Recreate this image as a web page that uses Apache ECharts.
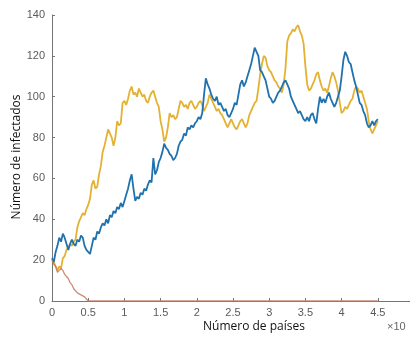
<!DOCTYPE html>
<html>
<head>
<meta charset="utf-8">
<script src="https://cdn.jsdelivr.net/npm/echarts@6/dist/echarts.min.js"></script>
<style>
  html, body { margin: 0; padding: 0; background: #fff; }
  #chart { width: 410px; height: 339px; }
</style>
</head>
<body>
<div id="chart"></div>
<script>
// Sample spacing of the two simulated runs (x in units of 10^4)
const step = 0.025;

// Run 1 (blue): infected count per sample, x = 0 .. 4.5
const blueValues = [
  21, 19, 24, 27, 31, 29, 33, 31, 28, 25,
  28, 30, 28, 27, 30, 29, 32, 31, 27, 25,
  24, 23, 27, 31, 30, 34, 33, 36, 38, 37,
  40, 38, 42, 41, 44, 43, 46, 45, 48, 46,
  49, 52, 55, 59, 62, 55, 49, 51, 50, 53,
  52, 55, 54, 57, 59, 58, 70, 62, 64, 68,
  70, 73, 77, 75, 74, 72, 71, 69, 70, 72,
  76, 78, 79, 82, 81, 85, 84, 86, 85, 87,
  88, 90, 89, 92, 101, 109, 106, 104, 101, 99,
  98, 100, 96, 97, 95, 93, 94, 91, 90, 92,
  94, 97, 96, 101, 106, 108, 105, 107, 110, 113,
  116, 120, 124, 122, 120, 113, 112, 110, 108, 104,
  100, 99, 97, 98, 100, 102, 103, 105, 107, 108,
  106, 104, 100, 98, 96, 94, 92, 93, 91, 89,
  88, 90, 88, 91, 92, 89, 87, 94, 100, 97,
  99, 97, 100, 102, 99, 97, 95, 97, 100, 103,
  110, 118, 122, 120, 117, 116, 112, 108, 105, 101,
  97, 96, 93, 91, 87, 85, 86, 88, 86, 88,
  89
];

// Run 2 (yellow): infected count per sample, x = 0 .. 4.5
const yellowValues = [
  20, 19, 17, 15, 17, 16, 21, 22, 25, 26,
  28, 27, 29, 30, 36, 39, 41, 43, 42, 45,
  47, 50, 57, 59, 55, 56, 62, 66, 73, 76,
  80, 84, 82, 80, 76, 80, 88, 86, 87, 97,
  98, 96, 99, 103, 105, 101, 102, 100, 104, 102,
  100, 101, 98, 97, 100, 102, 103, 100, 97, 95,
  88, 84, 78, 80, 85, 92, 90, 91, 89, 90,
  94, 98, 97, 95, 96, 94, 97, 98, 96, 94,
  95, 97, 98, 96, 93, 95, 97, 101, 99, 97,
  95, 93, 94, 92, 91, 89, 87, 85, 87, 89,
  87, 85, 84, 86, 88, 89, 87, 85, 87, 91,
  93, 95, 97, 98, 104, 111, 116, 120, 119, 115,
  113, 112, 110, 108, 107, 105, 104, 102, 106, 114,
  127, 130, 131, 133, 132, 134, 135, 132, 130, 126,
  115, 106, 103, 104, 106, 108, 111, 112, 108, 105,
  103, 104, 102, 105, 109, 112, 110, 107, 103, 97,
  92, 93, 95, 94, 96, 98, 99, 103, 105, 104,
  102, 103, 100, 97, 94, 88, 84, 82, 84, 86,
  88
];

// Run 3 (red): dies out by x = 0.5, then stays at zero
const redX = [0, 0.025, 0.05, 0.075, 0.1, 0.125, 0.15, 0.175, 0.2, 0.225,
              0.25, 0.275, 0.3, 0.325, 0.35, 0.375, 0.4, 0.425, 0.45, 0.475,
              0.5, 4.5];
const redY = [20, 18, 17, 14, 15, 16, 15, 13, 12, 11,
              9, 8, 6, 5, 4, 4, 3, 3, 2, 1,
              0, 0];

const xTicks = [0, 0.5, 1, 1.5, 2, 2.5, 3, 3.5, 4, 4.5, 5];
const yTicks = [0, 20, 40, 60, 80, 100, 120, 140];

const xLabel = 'Número de países';
const yLabel = 'Número de infectados';
const xScaleNote = '×10';

function pairs(values) {
  return values.map((v, i) => [+(i * step).toFixed(3), v]);
}
const redPairs = redX.map((x, i) => [x, redY[i]]);

const axisGray = '#767676';
const labelGray = '#5a5a5a';

const chart = echarts.init(document.getElementById('chart'), null, { renderer: 'canvas' });
chart.setOption({
  animation: false,
  backgroundColor: '#ffffff',
  grid: { left: 52, right: -4, top: 15, bottom: 38, containLabel: false, outerBoundsMode: 'none' },
  xAxis: {
    type: 'value',
    min: xTicks[0],
    max: xTicks[xTicks.length - 1],
    interval: 0.5,
    axisLine: { show: true, lineStyle: { color: axisGray, width: 1 } },
    axisTick: { show: true, inside: true, length: 3, lineStyle: { color: axisGray } },
    axisLabel: {
      color: labelGray, fontFamily: 'Liberation Sans', fontSize: 11, margin: 6,
      formatter: v => String(v)
    },
    splitLine: { show: false }
  },
  yAxis: {
    type: 'value',
    min: yTicks[0],
    max: yTicks[yTicks.length - 1],
    interval: 20,
    axisLine: { show: true, lineStyle: { color: axisGray, width: 1 } },
    axisTick: { show: true, inside: true, length: 3, lineStyle: { color: axisGray } },
    axisLabel: { color: labelGray, fontFamily: 'Liberation Sans', fontSize: 11, margin: 7 },
    splitLine: { show: false }
  },
  graphic: [
    {
      type: 'text', left: 203, top: 321,
      style: { text: xLabel, fill: '#111', font: '12px "Open Sans"' }
    },
    {
      type: 'text', x: 11, y: 157, rotation: Math.PI / 2,
      style: { text: yLabel, fill: '#111', font: '12px "Open Sans"', align: 'center', verticalAlign: 'top' }
    },
    {
      type: 'text', left: 387, top: 321,
      style: { text: xScaleNote, fill: '#666', font: '11px "Liberation Sans"' }
    }
  ],
  series: [
    {
      type: 'line', data: pairs(blueValues), showSymbol: false,
      lineStyle: { color: '#1f72ad', width: 1.8 }, z: 3
    },
    {
      type: 'line', data: pairs(yellowValues), showSymbol: false,
      lineStyle: { color: '#e4b232', width: 1.8 }, z: 2
    },
    {
      type: 'line', data: redPairs, showSymbol: false,
      lineStyle: { color: '#c27a5e', width: 1.3, opacity: 0.85 }, z: 4
    }
  ]
});
</script>
</body>
</html>
